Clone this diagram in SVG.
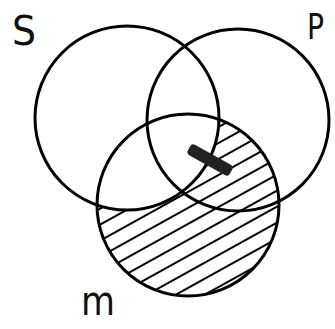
<svg xmlns="http://www.w3.org/2000/svg" width="335" height="329" viewBox="0 0 335 329">
<style>
.ring{fill:none;stroke:#000;stroke-width:3}
.lbl{font-family:"DejaVu Sans","Liberation Sans",sans-serif;fill:#111}
.hatch{stroke:#000;stroke-width:1.8;stroke-linecap:round}
</style>
<defs>
<pattern id="hp" width="40" height="14" patternUnits="userSpaceOnUse" patternTransform="rotate(-29)">
<line class="hatch" x1="0" y1="7" x2="40" y2="7"/>
</pattern>
<mask id="mMinusS">
<circle cx="188" cy="205" r="91" fill="#fff"/>
<circle cx="127" cy="118" r="92" fill="#000"/>
</mask>
</defs>
<rect width="335" height="329" fill="#fff"/>
<g id="hatching">
<rect x="90" y="100" width="200" height="210" fill="url(#hp)" mask="url(#mMinusS)"/>
</g>
<g id="S">
<circle class="ring" cx="127" cy="118" r="92"/>
</g>
<g id="P">
<circle class="ring" cx="238" cy="120" r="91"/>
</g>
<g id="M">
<circle class="ring" cx="188" cy="205" r="91"/>
</g>
<g id="mark">
<rect x="186" y="154" width="48" height="12" rx="4" fill="#222" transform="rotate(29 210 160)"/>
</g>
<g id="labels">
<text class="lbl" x="12" y="45" font-size="40" textLength="24" lengthAdjust="spacingAndGlyphs">S</text>
<text class="lbl" x="307" y="39" font-size="36" textLength="17" lengthAdjust="spacingAndGlyphs">P</text>
<text class="lbl" x="81" y="315" font-size="40" textLength="34" lengthAdjust="spacingAndGlyphs">m</text>
</g>
</svg>
